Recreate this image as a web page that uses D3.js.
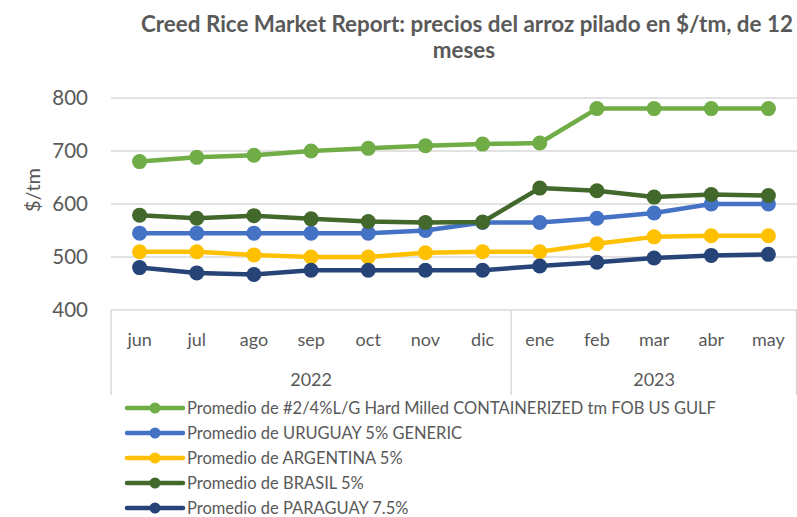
<!DOCTYPE html>
<html>
<head>
<meta charset="utf-8">
<script src="https://cdn.jsdelivr.net/npm/d3@7/dist/d3.min.js"></script>
<style>
  body { margin: 0; background: #fff; }
  svg { display: block; font-family: Lato, "Open Sans", sans-serif; }
</style>
</head>
<body>
<div id="chart"></div>
<script>
// data
var months = ["jun", "jul", "ago", "sep", "oct", "nov", "dic", "ene", "feb", "mar", "abr", "may"];
var years = [{ year: "2022", from: 0, to: 6 }, { year: "2023", from: 7, to: 11 }];
var yTicks = [400, 500, 600, 700, 800];

var usGulf   = [680, 688, 692, 700, 705, 710, 713, 715, 780, 780, 780, 780];
var uruguay  = [545, 545, 545, 545, 545, 550, 565, 565, 573, 583, 600, 600];
var argentina= [510, 510, 504, 500, 500, 508, 510, 510, 525, 538, 540, 540];
var brasil   = [579, 573, 578, 572, 567, 565, 566, 630, 625, 613, 618, 616];
var paraguay = [480, 470, 467, 475, 475, 475, 475, 483, 490, 498, 503, 505];

var series = [
  { name: "Promedio de #2/4%L/G Hard Milled CONTAINERIZED tm FOB US GULF", values: usGulf, color: "#70ad47" },
  { name: "Promedio de URUGUAY 5% GENERIC", values: uruguay, color: "#4472c4" },
  { name: "Promedio de ARGENTINA 5%", values: argentina, color: "#ffc000" },
  { name: "Promedio de BRASIL 5%", values: brasil, color: "#43682b" },
  { name: "Promedio de PARAGUAY 7.5%", values: paraguay, color: "#264478" }
];

var W = 797, H = 517;
var plotL = 111, plotR = 797, plotT = 98, plotB = 310;
var textColor = "#595959", gridColor = "#d9d9d9";

var svg = d3.select("#chart").append("svg")
    .attr("width", W)
    .attr("height", H);

// title
svg.append("text")
    .attr("x", 467).attr("y", 32)
    .attr("text-anchor", "middle")
    .attr("font-size", "22.4px").attr("font-weight", "bold")
    .attr("fill", textColor)
    .text("Creed Rice Market Report: precios del arroz pilado en $/tm, de 12");
svg.append("text")
    .attr("x", 464).attr("y", 58)
    .attr("text-anchor", "middle")
    .attr("font-size", "22.4px").attr("font-weight", "bold")
    .attr("fill", textColor)
    .text("meses");

var x = d3.scalePoint().domain(months).range([plotL, plotR]).padding(0.5);
var y = d3.scaleLinear().domain([400, 800]).range([plotB, plotT]);

// gridlines
svg.append("g")
  .selectAll("line")
  .data(yTicks.filter(d => d > 400))
  .enter().append("line")
    .attr("x1", plotL).attr("x2", plotR)
    .attr("y1", d => y(d)).attr("y2", d => y(d))
    .attr("stroke", gridColor).attr("stroke-width", 1.5);

// y axis labels
svg.append("g")
  .selectAll("text")
  .data(yTicks)
  .enter().append("text")
    .attr("x", 88)
    .attr("y", d => y(d) + 7)
    .attr("text-anchor", "end")
    .attr("font-size", "20.5px")
    .attr("fill", textColor)
    .text(d => d);

svg.append("text")
    .attr("transform", "translate(40," + 190 + ") rotate(-90)")
    .attr("text-anchor", "middle")
    .attr("font-size", "20px")
    .attr("fill", textColor)
    .text("$/tm");

// category axis box
var step = x.step();
var axisG = svg.append("g").attr("stroke", gridColor).attr("stroke-width", 1.5);
axisG.append("line").attr("x1", plotL).attr("x2", plotR).attr("y1", plotB).attr("y2", plotB);
var seps = [plotL, x(months[6]) + step / 2, plotR - 0.5];
seps.forEach(function(s) {
  axisG.append("line").attr("x1", s).attr("x2", s).attr("y1", plotB).attr("y2", 395);
});

svg.append("g")
  .selectAll("text")
  .data(months)
  .enter().append("text")
    .attr("x", d => x(d))
    .attr("y", 346)
    .attr("text-anchor", "middle")
    .attr("font-size", "18px")
    .attr("fill", textColor)
    .text(d => d);

svg.append("g")
  .selectAll("text")
  .data(years)
  .enter().append("text")
    .attr("x", d => (x(months[d.from]) + x(months[d.to])) / 2)
    .attr("y", 386)
    .attr("text-anchor", "middle")
    .attr("font-size", "18px")
    .attr("fill", textColor)
    .text(d => d.year);

// lines
var line = d3.line()
    .x((d, i) => x(months[i]))
    .y(d => y(d));

series.forEach(function(s) {
  var g = svg.append("g");
  g.append("path")
    .attr("d", line(s.values))
    .attr("fill", "none")
    .attr("stroke", s.color)
    .attr("stroke-width", 4.5)
    .attr("stroke-linejoin", "round");
  g.selectAll("circle")
    .data(s.values)
    .enter().append("circle")
      .attr("cx", (d, i) => x(months[i]))
      .attr("cy", d => y(d))
      .attr("r", 7.5)
      .attr("fill", s.color);
});

// legend
var legend = svg.append("g")
  .selectAll("g")
  .data(series)
  .enter().append("g")
    .attr("transform", (d, i) => "translate(127," + (408 + i * 25) + ")");

legend.append("line")
    .attr("x1", 0).attr("x2", 56)
    .attr("stroke", d => d.color)
    .attr("stroke-width", 4.5)
    .attr("stroke-linecap", "round");
legend.append("circle")
    .attr("cx", 28).attr("r", 5.5)
    .attr("fill", d => d.color);
legend.append("text")
    .attr("x", 60).attr("y", 5.5)
    .attr("font-size", "16.5px")
    .attr("fill", textColor)
    .text(d => d.name);
</script>
</body>
</html>
